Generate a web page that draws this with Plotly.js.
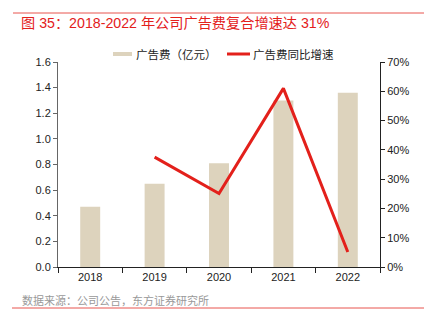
<!DOCTYPE html>
<html><head><meta charset="utf-8">
<script src="https://cdn.plot.ly/plotly-3.0.1.min.js"></script>
<style>html,body{margin:0;padding:0;background:#fff}</style>
</head><body>
<div id="chart" style="width:437px;height:322px"></div>
<script>
const years = ['2018', '2019', '2020', '2021', '2022'];
const adCost = [0.47, 0.65, 0.81, 1.30, 1.36];
const growthYears = ['2019', '2020', '2021', '2022'];
const growth = [0.375, 0.251, 0.61, 0.051];
const yTicks = [0, 0.2, 0.4, 0.6, 0.8, 1.0, 1.2, 1.4, 1.6];
const y2Ticks = [0, 0.1, 0.2, 0.3, 0.4, 0.5, 0.6, 0.7];
const seriesNames = ['广告费（亿元）', '广告费同比增速'];
const barColor = '#DDD3BD';
const lineColor = '#E3201B';

const cjk = '"Liberation Sans", "Noto Sans CJK SC", sans-serif';
const cjkOnly = '"Noto Sans CJK SC", sans-serif';
const traces = [
  {type: 'bar', x: years, y: adCost, name: seriesNames[0], width: 0.31,
   marker: {color: barColor}, yaxis: 'y', showlegend: false},
  {type: 'scatter', mode: 'lines', x: growthYears, y: growth, name: seriesNames[1],
   line: {color: lineColor, width: 3}, yaxis: 'y2', showlegend: false}
];
// plot area: x 58..380 (322px), y 62..267 (205px)
const px = v => (v - 58) / 322;
const py = v => (267 - v) / 205;
const layout = {
  width: 437, height: 322,
  margin: {l: 58, r: 57, t: 62, b: 55},
  paper_bgcolor: '#fff', plot_bgcolor: '#fff',
  font: {family: cjk, size: 11, color: '#222'},
  showlegend: false,
  title: {text: '图 35：2018-2022 年公司广告费复合增速达 31%', xref: 'container', yref: 'container',
          x: 21 / 437, xanchor: 'left', y: 1 - 23 / 322, yanchor: 'middle',
          font: {size: 14.2, color: lineColor, family: cjk, weight: 'normal'}},
  xaxis: {type: 'category', showline: true, linecolor: '#222', linewidth: 1,
          ticks: 'outside', ticklen: 5, tickcolor: '#222', tickson: 'boundaries',
          showgrid: false, zeroline: false, tickfont: {size: 11}},
  yaxis: {range: [0, 1.6], tickvals: yTicks, ticktext: yTicks.map(v => v.toFixed(1)),
          showline: true, linecolor: '#666', ticks: 'outside', ticklen: 4, tickcolor: '#666',
          showgrid: false, zeroline: false, tickfont: {size: 11}},
  yaxis2: {range: [0, 0.7], overlaying: 'y', side: 'right', tickvals: y2Ticks,
           ticktext: y2Ticks.map(v => Math.round(v * 100) + '%'),
           showline: true, linecolor: '#222', ticks: 'outside', ticklen: 4, tickcolor: '#222',
           showgrid: false, zeroline: false, tickfont: {size: 11}},
  shapes: [
    {type: 'line', xref: 'paper', yref: 'paper', x0: px(13), x1: px(424), y0: py(13), y1: py(13),
     line: {color: '#E8554E', width: 1}},
    {type: 'line', xref: 'paper', yref: 'paper', x0: px(12), x1: px(424), y0: py(308), y1: py(308),
     line: {color: '#E8554E', width: 1}},
    {type: 'rect', xref: 'paper', yref: 'paper', x0: px(113), x1: px(132), y0: py(56), y1: py(52),
     line: {width: 0}, fillcolor: barColor},
    {type: 'line', xref: 'paper', yref: 'paper', x0: px(227), x1: px(250), y0: py(54), y1: py(54),
     line: {color: lineColor, width: 3}}
  ],
  annotations: [
    {text: seriesNames[0], xref: 'paper', yref: 'paper',
     x: px(134), y: py(54), xanchor: 'left', yanchor: 'middle', showarrow: false,
     font: {size: 11.5, color: '#222', family: cjkOnly}},
    {text: seriesNames[1], xref: 'paper', yref: 'paper',
     x: px(251), y: py(54), xanchor: 'left', yanchor: 'middle', showarrow: false,
     font: {size: 11.5, color: '#222', family: cjkOnly}},
    {text: '数据来源：公司公告，东方证券研究所', xref: 'paper', yref: 'paper',
     x: px(20), y: py(300), xanchor: 'left', yanchor: 'middle', showarrow: false,
     font: {size: 11, color: '#999', family: cjk}}
  ]
};
Plotly.newPlot('chart', traces, layout, {displayModeBar: false, staticPlot: true});
</script>
</body></html>
